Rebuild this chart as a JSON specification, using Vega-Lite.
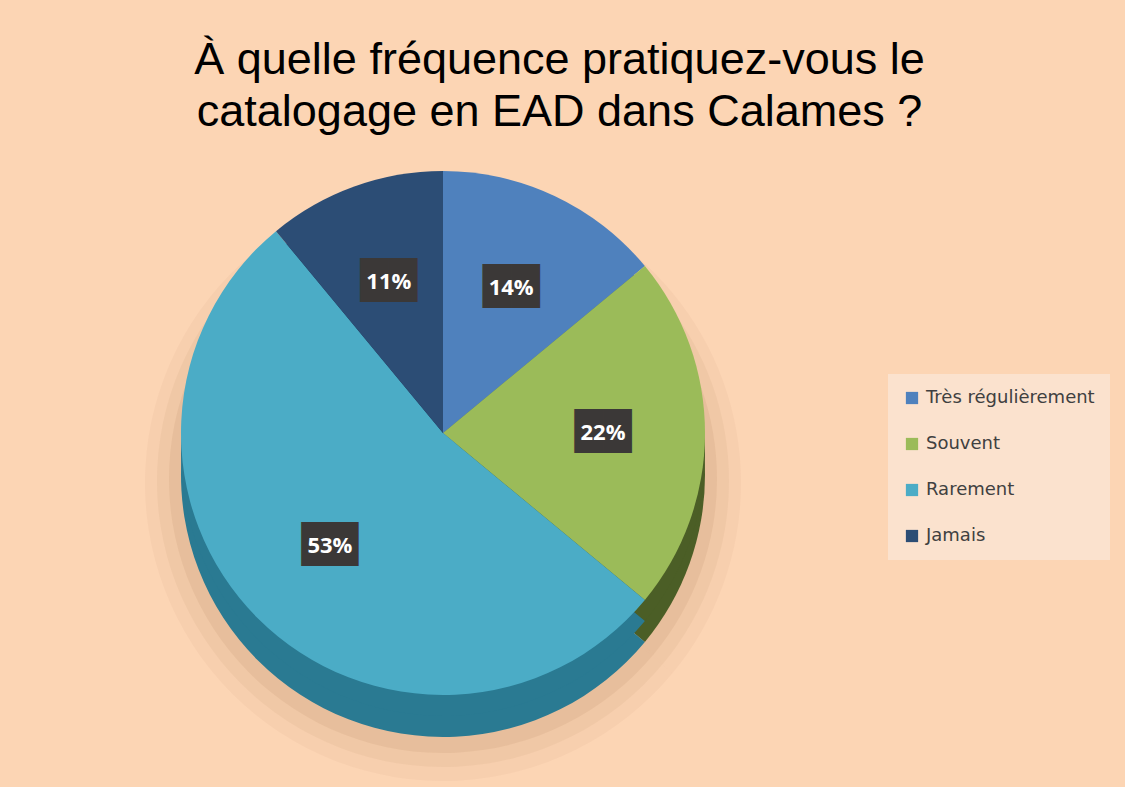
{
  "$schema": "https://vega.github.io/schema/vega-lite/v6.json",
  "width": 868,
  "height": 568,
  "padding": {"left": 9, "top": 38, "right": 30, "bottom": 70},
  "background": "#FCD5B4",
  "title": {
    "text": ["À quelle fréquence pratiquez-vous le", "catalogage en EAD dans Calames ?"],
    "font": "Liberation Sans",
    "fontSize": 45,
    "fontWeight": "normal",
    "color": "#000000",
    "lineHeight": 52,
    "anchor": "middle",
    "frame": "bounds",
    "offset": 14
  },
  "data": {
    "values": [
      {"categorie": "Très régulièrement", "part": 14, "etiquette": "14%", "rang": 1},
      {"categorie": "Souvent", "part": 22, "etiquette": "22%", "rang": 2},
      {"categorie": "Rarement", "part": 53, "etiquette": "53%", "rang": 3},
      {"categorie": "Jamais", "part": 11, "etiquette": "11%", "rang": 4}
    ]
  },
  "encoding": {
    "theta": {"field": "part", "type": "quantitative", "stack": true},
    "order": {"field": "rang", "type": "quantitative"}
  },
  "layer": [
    {
      "mark": {"type": "arc", "radius": 298, "yOffset": 50, "color": "#9C6B45", "opacity": 0.05}
    },
    {
      "mark": {"type": "arc", "radius": 286, "yOffset": 48, "color": "#9C6B45", "opacity": 0.07}
    },
    {
      "mark": {"type": "arc", "radius": 274, "yOffset": 46, "color": "#9C6B45", "opacity": 0.1}
    },
    {
      "mark": {"type": "arc", "radius": 262, "yOffset": 42},
      "encoding": {
        "color": {
          "field": "categorie", "type": "nominal", "legend": null,
          "scale": {"domain": ["Très régulièrement", "Souvent", "Rarement", "Jamais"],
                    "range": ["#365F91", "#4B5E26", "#2A7A92", "#1E3553"]}
        }
      }
    },
    {
      "mark": {"type": "arc", "radius": 262, "yOffset": 21},
      "encoding": {
        "color": {
          "field": "categorie", "type": "nominal", "legend": null,
          "scale": {"domain": ["Très régulièrement", "Souvent", "Rarement", "Jamais"],
                    "range": ["#365F91", "#4B5E26", "#2A7A92", "#1E3553"]}
        }
      }
    },
    {
      "mark": {"type": "arc", "radius": 262},
      "encoding": {
        "color": {
          "field": "categorie", "type": "nominal",
          "sort": ["Très régulièrement", "Souvent", "Rarement", "Jamais"],
          "scale": {"domain": ["Très régulièrement", "Souvent", "Rarement", "Jamais"],
                    "range": ["#4F81BD", "#9BBB59", "#4BACC6", "#2C4D75"]},
          "legend": {
            "title": null,
            "orient": "none",
            "legendX": 879,
            "legendY": 225,
            "symbolType": "square",
            "symbolSize": 150,
            "symbolStrokeWidth": 0,
            "labelFont": "DejaVu Sans",
            "labelFontSize": 18,
            "labelColor": "#404040",
            "labelOffset": 5,
            "labelLimit": 300,
            "rowPadding": 28,
            "padding": 15,
            "fillColor": "#FBE2CE"
          }
        }
      }
    },
    {
      "mark": {"type": "text", "radius": 160, "font": "DejaVu Sans", "fontSize": 37, "color": "#3B3837", "baseline": "middle", "align": "center"},
      "encoding": {"text": {"value": "██"}}
    },
    {
      "mark": {"type": "text", "radius": 160, "font": "Open Sans", "fontSize": 22, "fontWeight": "bold", "color": "#FFFFFF", "baseline": "middle", "align": "center"},
      "encoding": {"text": {"field": "etiquette", "type": "nominal"}}
    }
  ],
  "resolve": {"scale": {"color": "independent"}},
  "config": {"view": {"stroke": null}}
}
